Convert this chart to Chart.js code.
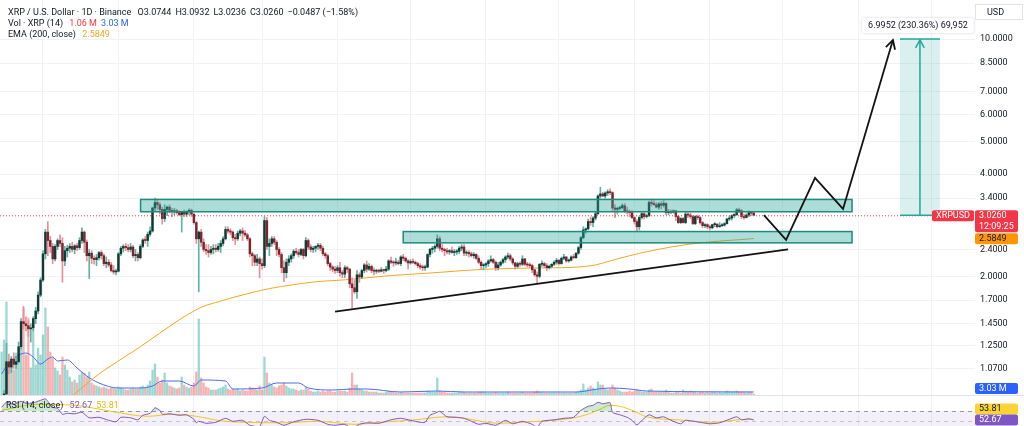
<!DOCTYPE html>
<html>
<head>
<meta charset="utf-8">
<script src="https://cdn.jsdelivr.net/npm/chart.js@4.4.1/dist/chart.umd.min.js"></script>
<style>
  body { margin: 0; background: #fff; width: 1024px; height: 426px; overflow: hidden; position: relative; font-family: Roboto, "Noto Sans", sans-serif; }
  #pricePane { position: absolute; left: 0; top: 0; width: 1024px; height: 395px; }
  #rsiPane { position: absolute; left: 0; top: 396px; width: 1024px; height: 30px; }
  #sep { position: absolute; left: 0; top: 395px; width: 1024px; height: 1px; background: #e0e3eb; }
  .lg { position: absolute; left: 8px; font-size: 9px; line-height: 11px; color: #131722; white-space: nowrap; }
  .lg span { margin-right: 4px; }
</style>
</head>
<body>
<div id="pricePane"><canvas id="priceChart"></canvas></div>
<div id="sep"></div>
<div id="rsiPane"><canvas id="rsiChart"></canvas></div>

<div class="lg" style="top:7px"><span>XRP / U.S. Dollar · 1D · Binance</span> <span>O3.0744</span><span>H3.0932</span><span>L3.0236</span><span>C3.0260</span><span>−0.0487 (−1.58%)</span></div>
<div class="lg" style="top:18px"><span>Vol · XRP (14)</span> <span style="color:#f23645">1.06 M</span><span style="color:#2962ff">3.03 M</span></div>
<div class="lg" style="top:29px"><span>EMA (200, close)</span> <span style="color:#f5a623">2.5849</span></div>
<div class="lg" style="top:400px;left:6px"><span>RSI (14, close)</span> <span style="color:#7e57c2">52.67</span><span style="color:#e8b90c">53.81</span></div>

<script>
// daily candles, 14 Nov 2024 .. 19 Sep 2025 (index 0..309)
const opens = [
  0.72, 0.73, 0.90, 1.12, 1.08, 1.14, 1.10, 1.12, 1.24, 1.47,
  1.45, 1.43, 1.40, 1.41, 1.50, 1.58, 1.76, 1.95, 2.33, 2.70,
  2.55, 2.45, 2.25, 2.45, 2.55, 2.50, 2.22, 2.38, 2.42, 2.45,
  2.40, 2.46, 2.43, 2.55, 2.70, 2.52, 2.30, 2.34, 2.26, 2.24,
  2.27, 2.35, 2.30, 2.18, 2.20, 2.16, 2.08, 2.06, 2.07, 2.33,
  2.42, 2.45, 2.43, 2.40, 2.44, 2.30, 2.32, 2.27, 2.45, 2.56,
  2.55, 2.66, 2.72, 3.18, 3.30, 3.25, 3.15, 2.96, 3.15, 3.20,
  3.13, 3.10, 3.12, 3.08, 3.04, 3.09, 3.05, 3.10, 3.13, 3.05,
  2.88, 2.58, 2.70, 2.52, 2.40, 2.38, 2.35, 2.40, 2.42, 2.40,
  2.45, 2.50, 2.58, 2.75, 2.72, 2.70, 2.60, 2.58, 2.68, 2.72,
  2.68, 2.65, 2.58, 2.33, 2.30, 2.20, 2.25, 2.18, 2.15, 2.92,
  2.45, 2.50, 2.58, 2.52, 2.40, 2.32, 2.12, 2.05, 2.20, 2.25,
  2.30, 2.37, 2.35, 2.32, 2.40, 2.30, 2.55, 2.44, 2.40, 2.42,
  2.45, 2.47, 2.42, 2.33, 2.30, 2.18, 2.13, 2.10, 2.08, 2.12,
  2.05, 2.03, 2.12, 2.10, 1.90, 1.85, 1.80, 2.02, 1.99, 2.08,
  2.16, 2.10, 2.14, 2.08, 2.07, 2.08, 2.07, 2.09, 2.08, 2.10,
  2.22, 2.20, 2.19, 2.20, 2.18, 2.28, 2.26, 2.22, 2.19, 2.21,
  2.20, 2.18, 2.15, 2.13, 2.12, 2.13, 2.32, 2.40, 2.42, 2.45,
  2.58, 2.42, 2.40, 2.38, 2.36, 2.38, 2.35, 2.36, 2.37, 2.42,
  2.44, 2.34, 2.35, 2.33, 2.30, 2.32, 2.26, 2.20, 2.15, 2.16,
  2.18, 2.22, 2.24, 2.20, 2.12, 2.16, 2.20, 2.24, 2.28, 2.30,
  2.25, 2.19, 2.14, 2.18, 2.17, 2.25, 2.17, 2.16, 2.15, 2.09,
  2.02, 2.00, 2.17, 2.18, 2.15, 2.12, 2.14, 2.17, 2.20, 2.23,
  2.18, 2.26, 2.28, 2.22, 2.23, 2.28, 2.27, 2.34, 2.43, 2.60,
  2.74, 2.76, 2.90, 2.88, 2.97, 3.06, 3.45, 3.50, 3.45, 3.52,
  3.55, 3.53, 3.18, 3.15, 3.17, 3.19, 3.23, 3.12, 3.10, 3.08,
  2.98, 2.90, 2.80, 2.98, 3.06, 3.00, 3.02, 3.30, 3.28, 3.25,
  3.20, 3.27, 3.24, 3.28, 3.08, 3.10, 3.09, 3.12, 3.00, 2.88,
  2.96, 2.88, 3.05, 3.03, 3.00, 2.86, 3.00, 2.98, 2.88, 2.82,
  2.84, 2.80, 2.78, 2.84, 2.85, 2.80, 2.82, 2.83, 2.86, 2.95,
  2.97, 3.02, 3.04, 3.14, 3.12, 3.00, 2.98, 3.03, 3.08, 3.0744
];
const highs = [
  0.80, 0.92, 1.27, 1.18, 1.16, 1.19, 1.16, 1.28, 1.50, 1.63,
  1.52, 1.48, 1.45, 1.52, 1.62, 1.80, 1.98, 2.38, 2.75, 2.90,
  2.62, 2.50, 2.48, 2.58, 2.65, 2.60, 2.45, 2.47, 2.50, 2.52,
  2.48, 2.50, 2.60, 2.78, 2.72, 2.56, 2.40, 2.38, 2.30, 2.32,
  2.37, 2.38, 2.33, 2.28, 2.24, 2.20, 2.15, 2.10, 2.35, 2.45,
  2.48, 2.50, 2.48, 2.50, 2.47, 2.40, 2.35, 2.48, 2.58, 2.62,
  2.70, 2.80, 3.20, 3.40, 3.38, 3.30, 3.20, 3.25, 3.22, 3.25,
  3.18, 3.17, 3.15, 3.12, 3.10, 3.14, 3.12, 3.16, 3.16, 3.06,
  2.90, 2.72, 2.75, 2.58, 2.48, 2.48, 2.45, 2.48, 2.48, 2.50,
  2.55, 2.62, 2.80, 2.80, 2.76, 2.72, 2.66, 2.72, 2.75, 2.78,
  2.73, 2.68, 2.60, 2.36, 2.32, 2.32, 2.28, 2.25, 3.00, 2.98,
  2.58, 2.62, 2.62, 2.55, 2.43, 2.35, 2.22, 2.25, 2.30, 2.33,
  2.40, 2.42, 2.40, 2.42, 2.42, 2.60, 2.58, 2.48, 2.45, 2.46,
  2.50, 2.50, 2.45, 2.35, 2.32, 2.20, 2.15, 2.14, 2.15, 2.20,
  2.08, 2.15, 2.14, 2.11, 1.98, 1.95, 2.08, 2.05, 2.10, 2.18,
  2.22, 2.18, 2.16, 2.12, 2.10, 2.10, 2.12, 2.10, 2.14, 2.24,
  2.28, 2.22, 2.26, 2.23, 2.30, 2.32, 2.28, 2.24, 2.24, 2.25,
  2.22, 2.20, 2.18, 2.16, 2.16, 2.33, 2.42, 2.45, 2.48, 2.65,
  2.62, 2.48, 2.42, 2.42, 2.40, 2.44, 2.40, 2.40, 2.45, 2.48,
  2.48, 2.38, 2.38, 2.36, 2.35, 2.33, 2.30, 2.22, 2.18, 2.20,
  2.24, 2.30, 2.26, 2.22, 2.20, 2.22, 2.26, 2.30, 2.34, 2.33,
  2.27, 2.20, 2.20, 2.21, 2.30, 2.26, 2.20, 2.19, 2.17, 2.10,
  2.06, 2.18, 2.22, 2.20, 2.18, 2.16, 2.18, 2.22, 2.26, 2.24,
  2.28, 2.32, 2.29, 2.25, 2.30, 2.32, 2.35, 2.45, 2.62, 2.80,
  2.78, 2.95, 2.99, 3.00, 3.10, 3.48, 3.66, 3.54, 3.55, 3.60,
  3.62, 3.55, 3.25, 3.20, 3.22, 3.27, 3.28, 3.20, 3.14, 3.12,
  3.00, 2.94, 3.00, 3.08, 3.08, 3.05, 3.33, 3.38, 3.34, 3.30,
  3.30, 3.32, 3.34, 3.30, 3.15, 3.14, 3.14, 3.13, 3.02, 2.98,
  2.98, 3.10, 3.08, 3.07, 3.02, 3.02, 3.03, 3.00, 2.90, 2.86,
  2.86, 2.83, 2.85, 2.88, 2.86, 2.88, 2.86, 2.88, 2.97, 3.01,
  3.04, 3.06, 3.17, 3.18, 3.15, 3.05, 3.06, 3.12, 3.10, 3.0932
];
const lows = [
  0.69, 0.71, 0.89, 1.03, 1.04, 1.07, 1.07, 1.11, 1.22, 1.40,
  1.38, 1.33, 1.28, 1.38, 1.45, 1.55, 1.74, 1.93, 2.25, 2.30,
  2.35, 2.18, 2.22, 2.40, 2.45, 1.92, 2.15, 2.28, 2.35, 2.36,
  2.33, 2.38, 2.40, 2.50, 2.35, 2.22, 1.97, 2.18, 2.17, 2.15,
  2.23, 2.25, 2.15, 2.12, 2.13, 2.06, 2.03, 2.02, 2.06, 2.30,
  2.36, 2.38, 2.36, 2.36, 2.27, 2.22, 2.22, 2.25, 2.43, 2.50,
  2.45, 2.62, 2.70, 3.10, 3.15, 3.05, 2.85, 2.90, 3.02, 3.08,
  3.00, 3.04, 3.05, 3.02, 2.70, 3.00, 3.00, 3.04, 3.00, 2.85,
  2.50, 1.80, 2.45, 2.36, 2.32, 2.28, 2.32, 2.33, 2.36, 2.37,
  2.35, 2.46, 2.56, 2.68, 2.65, 2.55, 2.48, 2.55, 2.63, 2.55,
  2.62, 2.55, 2.28, 2.15, 2.15, 2.15, 1.98, 2.10, 2.12, 2.40,
  2.30, 2.45, 2.48, 2.30, 2.28, 2.05, 1.93, 1.98, 2.15, 2.20,
  2.26, 2.32, 2.28, 2.30, 2.25, 2.28, 2.40, 2.36, 2.35, 2.36,
  2.40, 2.38, 2.30, 2.26, 2.15, 2.08, 2.06, 2.04, 2.05, 2.00,
  1.98, 1.98, 2.05, 1.85, 1.61, 1.78, 1.72, 1.92, 1.97, 2.05,
  2.06, 2.08, 2.05, 2.02, 2.04, 2.05, 2.06, 2.04, 2.06, 2.08,
  2.18, 2.14, 2.16, 2.16, 2.15, 2.22, 2.20, 2.10, 2.17, 2.18,
  2.16, 2.12, 2.10, 2.08, 2.08, 2.12, 2.28, 2.34, 2.36, 2.42,
  2.38, 2.36, 2.30, 2.33, 2.32, 2.34, 2.30, 2.32, 2.33, 2.38,
  2.30, 2.30, 2.28, 2.28, 2.26, 2.24, 2.18, 2.10, 2.09, 2.12,
  2.14, 2.20, 2.18, 2.08, 2.09, 2.14, 2.18, 2.20, 2.25, 2.22,
  2.16, 2.10, 2.12, 2.14, 2.15, 2.15, 2.13, 2.12, 2.05, 2.00,
  1.91, 1.98, 2.14, 2.12, 2.08, 2.10, 2.12, 2.15, 2.17, 2.16,
  2.17, 2.24, 2.20, 2.20, 2.22, 2.25, 2.26, 2.32, 2.40, 2.58,
  2.68, 2.74, 2.83, 2.80, 2.93, 3.04, 3.40, 3.43, 3.40, 3.46,
  3.48, 3.10, 2.98, 3.05, 3.14, 3.16, 3.08, 3.05, 3.00, 2.96,
  2.85, 2.72, 2.74, 2.95, 2.95, 2.97, 3.00, 3.22, 3.24, 3.18,
  3.15, 3.16, 3.20, 3.04, 3.04, 3.06, 3.07, 2.92, 2.86, 2.86,
  2.87, 2.86, 2.98, 2.96, 2.84, 2.84, 2.94, 2.85, 2.78, 2.78,
  2.76, 2.74, 2.76, 2.80, 2.78, 2.79, 2.80, 2.81, 2.85, 2.92,
  2.93, 2.98, 3.02, 3.08, 2.96, 2.95, 2.97, 3.00, 3.02, 3.0236
];
const closes = [
  0.73, 0.90, 1.12, 1.08, 1.14, 1.10, 1.12, 1.24, 1.47, 1.45,
  1.43, 1.40, 1.41, 1.50, 1.58, 1.76, 1.95, 2.33, 2.70, 2.55,
  2.45, 2.25, 2.45, 2.55, 2.50, 2.22, 2.38, 2.42, 2.45, 2.40,
  2.46, 2.43, 2.55, 2.70, 2.52, 2.30, 2.34, 2.26, 2.24, 2.27,
  2.35, 2.30, 2.18, 2.20, 2.16, 2.08, 2.06, 2.07, 2.33, 2.42,
  2.45, 2.43, 2.40, 2.44, 2.30, 2.32, 2.27, 2.45, 2.56, 2.55,
  2.66, 2.72, 3.18, 3.30, 3.25, 3.15, 2.96, 3.15, 3.20, 3.13,
  3.10, 3.12, 3.08, 3.04, 3.09, 3.05, 3.10, 3.13, 3.05, 2.88,
  2.58, 2.70, 2.52, 2.40, 2.38, 2.35, 2.40, 2.42, 2.40, 2.45,
  2.50, 2.58, 2.75, 2.72, 2.70, 2.60, 2.58, 2.68, 2.72, 2.68,
  2.65, 2.58, 2.33, 2.30, 2.20, 2.25, 2.18, 2.15, 2.92, 2.45,
  2.50, 2.58, 2.52, 2.40, 2.32, 2.12, 2.05, 2.20, 2.25, 2.30,
  2.37, 2.35, 2.32, 2.40, 2.30, 2.55, 2.44, 2.40, 2.42, 2.45,
  2.47, 2.42, 2.33, 2.30, 2.18, 2.13, 2.10, 2.08, 2.12, 2.05,
  2.03, 2.12, 2.10, 1.90, 1.85, 1.80, 2.02, 1.99, 2.08, 2.16,
  2.10, 2.14, 2.08, 2.07, 2.08, 2.07, 2.09, 2.08, 2.10, 2.22,
  2.20, 2.19, 2.20, 2.18, 2.28, 2.26, 2.22, 2.19, 2.21, 2.20,
  2.18, 2.15, 2.13, 2.12, 2.13, 2.32, 2.40, 2.42, 2.45, 2.58,
  2.42, 2.40, 2.38, 2.36, 2.38, 2.35, 2.36, 2.37, 2.42, 2.44,
  2.34, 2.35, 2.33, 2.30, 2.32, 2.26, 2.20, 2.15, 2.16, 2.18,
  2.22, 2.24, 2.20, 2.12, 2.16, 2.20, 2.24, 2.28, 2.30, 2.25,
  2.19, 2.14, 2.18, 2.17, 2.25, 2.17, 2.16, 2.15, 2.09, 2.02,
  2.00, 2.17, 2.18, 2.15, 2.12, 2.14, 2.17, 2.20, 2.23, 2.18,
  2.26, 2.28, 2.22, 2.23, 2.28, 2.27, 2.34, 2.43, 2.60, 2.74,
  2.76, 2.90, 2.88, 2.97, 3.06, 3.45, 3.50, 3.45, 3.52, 3.55,
  3.53, 3.18, 3.15, 3.17, 3.19, 3.23, 3.12, 3.10, 3.08, 2.98,
  2.90, 2.80, 2.98, 3.06, 3.00, 3.02, 3.30, 3.28, 3.25, 3.20,
  3.27, 3.24, 3.28, 3.08, 3.10, 3.09, 3.12, 3.00, 2.88, 2.96,
  2.88, 3.05, 3.03, 3.00, 2.86, 3.00, 2.98, 2.88, 2.82, 2.84,
  2.80, 2.78, 2.84, 2.85, 2.80, 2.82, 2.83, 2.86, 2.95, 2.97,
  3.02, 3.04, 3.14, 3.12, 3.00, 2.98, 3.03, 3.08, 3.07, 3.026
];
// volume in millions
const volumes = [
  43, 55, 93, 27, 30, 25, 42, 38, 47, 87,
  40, 77, 27, 77, 30, 47, 40, 60, 87, 68,
  43, 37, 27, 24, 20, 38, 30, 25, 18, 13,
  15, 12, 20, 23, 22, 18, 23, 12, 10, 9,
  8, 7, 8, 7, 6, 7, 7, 6, 8, 7,
  6, 5, 5, 6, 7, 6, 6, 8, 9, 7,
  10, 14, 25, 31, 18, 12, 15, 22, 12, 9,
  8, 7, 6, 7, 18, 10, 8, 7, 8, 12,
  23, 76, 17, 12, 8, 7, 5, 5, 5, 6,
  7, 8, 10, 6, 5, 6, 5, 6, 4, 5,
  4, 4, 8, 7, 6, 5, 9, 5, 38, 22,
  12, 10, 8, 7, 9, 10, 12, 9, 7, 6,
  6, 5, 4, 5, 5, 8, 6, 4, 3, 3,
  4, 3, 4, 3, 4, 4, 3, 3, 4, 4,
  4, 4, 3, 7, 22, 10, 10, 6, 5, 4,
  4, 3, 3, 3, 3, 2, 2, 2, 3, 4,
  3, 3, 2, 2, 3, 2, 2, 2, 2, 2,
  2, 2, 2, 2, 2, 4, 3, 3, 3, 17,
  4, 3, 3, 2, 2, 2, 2, 2, 3, 3,
  3, 2, 2, 2, 2, 2, 3, 3, 3, 2,
  2, 2, 2, 3, 2, 2, 2, 2, 3, 2,
  2, 2, 2, 2, 3, 2, 2, 2, 2, 3,
  4, 3, 2, 2, 2, 2, 2, 2, 2, 2,
  2, 2, 2, 2, 2, 2, 3, 3, 5, 11,
  5, 7, 9, 7, 5, 13, 10, 10, 6, 5,
  6, 10, 7, 5, 4, 3, 3, 3, 4, 3,
  4, 5, 4, 3, 3, 3, 5, 6, 3, 3,
  3, 3, 3, 5, 3, 2, 2, 3, 3, 2,
  5, 3, 3, 4, 3, 3, 2, 3, 3, 2,
  3, 2, 3, 3, 2, 3, 2, 3, 4, 3,
  3, 3, 4, 3, 3, 3, 2, 3, 3, 1.06
];

// indicator lines (candle index -> value)
const emaIdx = [0, 10, 20, 30, 40, 50, 57, 65, 70, 75, 82, 90, 100, 110, 120, 130, 140, 150, 160, 176, 190, 200, 217, 230, 237, 244, 250, 258, 266, 275, 285, 295, 305, 309];
const emaVal = [0.57, 0.66, 0.78, 0.90, 1.03, 1.15, 1.24, 1.36, 1.44, 1.52, 1.62, 1.69, 1.77, 1.84, 1.89, 1.93, 1.95, 1.98, 2.01, 2.045, 2.08, 2.10, 2.115, 2.12, 2.13, 2.16, 2.22, 2.30, 2.37, 2.44, 2.50, 2.54, 2.57, 2.5849];
const volMaIdx = [0, 3, 8, 10, 13, 16, 19, 21, 23, 27, 31, 35, 40, 48, 57, 62, 66, 73, 79, 82, 92, 95, 107, 113, 122, 126, 136, 144, 150, 164, 179, 190, 236, 245, 250, 258, 265, 309];
const volMaVal = [21, 32, 41, 42, 38, 31, 36, 38, 34, 35, 27, 19, 12, 7, 7, 9, 14, 14, 9, 15, 14, 6, 7, 12, 12, 7, 5, 6, 6, 3, 4, 3, 3, 6, 7, 6, 4, 3.03];
const rsiIdx = [0, 2, 5, 8, 10, 13, 16, 18, 19, 21, 23, 25, 27, 30, 33, 36, 40, 44, 47, 49, 53, 56, 58, 61, 63, 65, 66, 69, 73, 76,
                79, 80, 81, 84, 88, 92, 95, 99, 102, 104, 106, 108, 110, 113, 116, 120, 125, 130, 134, 137, 141, 144, 147, 150, 155, 160, 164, 168, 172, 174,
                176, 178, 180, 183, 187, 190, 193, 196, 199, 203, 207, 210, 214, 218, 220, 222, 227, 231, 235, 238, 241, 243, 245, 247, 250, 251, 254, 257, 259, 261,
                264, 266, 269, 272, 275, 279, 281, 283, 287, 291, 295, 299, 302, 304, 307, 309];
const rsiVal = [78, 88, 84, 90, 86, 87, 92, 95, 90, 78, 76, 64, 66, 65, 68, 57, 58, 52, 49, 58, 57, 53, 62, 66, 77, 72, 64, 65, 62, 63,
                54, 47, 50, 46, 48, 56, 50, 52, 42, 40, 39, 60, 52, 48, 42, 49, 54, 52, 44, 42, 44, 36, 44, 47, 46, 53, 56, 52, 48, 48,
                62, 66, 70, 59, 58, 56, 50, 44, 46, 42, 52, 45, 50, 44, 38, 50, 53, 56, 58, 72, 80, 82, 88, 85, 87, 68, 63, 58, 52, 43,
                56, 63, 57, 59, 52, 45, 52, 51, 48, 45, 47, 54, 59, 53, 55, 52.67];
const rsiMaIdx = [0, 15, 30, 45, 60, 70, 80, 90, 100, 115, 130, 145, 155, 169, 183, 190, 204, 217, 231, 238, 245, 250, 254, 260, 265, 279, 292, 306, 309];
const rsiMaVal = [72, 84, 82, 70, 60, 64, 60, 51, 48, 47, 50, 44, 48, 52.6, 59, 56, 46, 49, 54, 60, 72, 82, 80, 70, 59, 52.6, 48, 54, 53.81];

const monthStarts = [17, 48, 79, 107, 138, 168, 199, 229, 260, 291, 321, 352, 382];
const priceTicks = [1.07, 1.25, 1.45, 1.7, 2, 2.4, 3.4, 4, 5, 6, 7, 8.5, 10];

// drawings (candle index / price)
const zoneFrom = [57.1, 165.0], zoneTo = [349.4, 349.4];
const zoneTop = [3.37, 2.71], zoneBottom = [3.10, 2.51];
const trendIdx = [137.0, 323.1], trendPrice = [1.573, 2.40];
const pathIdx = [313.2, 322.3, 334.2, 345.7, 366.2];
const pathPrice = [3.03, 2.56, 3.90, 3.16, 9.95];
const measureFrom = 369.1, measureTo = 385.5, measureMid = 377.3;
const measureLow = 3.026, measureHigh = 10.0212;
const lastPrice = 3.026, lastEma = 2.5849, lastVolMa = 3.03, lastRsi = 52.67, lastRsiMa = 53.81;

const xMin = -0.657, xMax = 399.92;
Chart.defaults.font.family = 'Roboto, "Noto Sans", sans-serif';
const upColor = i => closes[i] >= opens[i];
const grid = '#f0f2f6';

function tag(ctx, x, y, w, h, bg, fg, lines) {
  ctx.fillStyle = bg;
  ctx.beginPath();
  ctx.roundRect(x, y, w, h, 2);
  ctx.fill();
  ctx.fillStyle = fg;
  ctx.font = '9px Roboto, "Noto Sans", sans-serif';
  ctx.textBaseline = 'middle';
  ctx.textAlign = 'left';
  lines.forEach((t, k) => ctx.fillText(t, x + 4, y + 5.5 + k * 11));
}

function arrowHead(ctx, x0, y0, x1, y1, len) {
  const a = Math.atan2(y1 - y0, x1 - x0);
  ctx.beginPath();
  ctx.moveTo(x1 - len * Math.cos(a - 0.5), y1 - len * Math.sin(a - 0.5));
  ctx.lineTo(x1, y1);
  ctx.lineTo(x1 - len * Math.cos(a + 0.5), y1 - len * Math.sin(a + 0.5));
  ctx.stroke();
}

const drawings = {
  id: 'drawings',
  afterDatasetsDraw(chart) {
    const { ctx, chartArea: a, scales: { x, y } } = chart;
    ctx.save();
    ctx.beginPath();
    ctx.rect(a.left, a.top, a.right - a.left, a.bottom - a.top);
    ctx.clip();

    // last price dotted line
    const py = y.getPixelForValue(lastPrice);
    ctx.strokeStyle = '#f23645';
    ctx.lineWidth = 1;
    ctx.setLineDash([1, 2]);
    ctx.beginPath();
    ctx.moveTo(a.left, py + 0.5);
    ctx.lineTo(a.right, py + 0.5);
    ctx.stroke();
    ctx.setLineDash([]);

    // zones
    zoneFrom.forEach((f, k) => {
      const x0 = x.getPixelForValue(f), x1 = x.getPixelForValue(zoneTo[k]);
      const y0 = y.getPixelForValue(zoneTop[k]), y1 = y.getPixelForValue(zoneBottom[k]);
      ctx.fillStyle = 'rgba(38,166,154,0.38)';
      ctx.fillRect(x0, y0, x1 - x0, y1 - y0);
      ctx.strokeStyle = '#1f8a7a';
      ctx.lineWidth = 1.5;
      ctx.strokeRect(x0, y0, x1 - x0, y1 - y0);
    });

    // trend line
    ctx.strokeStyle = '#131313';
    ctx.lineWidth = 1.8;
    ctx.beginPath();
    ctx.moveTo(x.getPixelForValue(trendIdx[0]), y.getPixelForValue(trendPrice[0]));
    ctx.lineTo(x.getPixelForValue(trendIdx[1]), y.getPixelForValue(trendPrice[1]));
    ctx.stroke();

    // projected path
    const pts = pathIdx.map((v, k) => [x.getPixelForValue(v), y.getPixelForValue(pathPrice[k])]);
    ctx.beginPath();
    pts.forEach((p, k) => k ? ctx.lineTo(p[0], p[1]) : ctx.moveTo(p[0], p[1]));
    ctx.stroke();
    const n = pts.length;
    arrowHead(ctx, pts[n - 2][0], pts[n - 2][1], pts[n - 1][0], pts[n - 1][1], 10);

    // measure box
    const mx0 = x.getPixelForValue(measureFrom), mx1 = x.getPixelForValue(measureTo);
    const mxm = x.getPixelForValue(measureMid);
    const my0 = y.getPixelForValue(measureHigh), my1 = y.getPixelForValue(measureLow);
    ctx.fillStyle = 'rgba(38,166,154,0.17)';
    ctx.fillRect(mx0, my0, mx1 - mx0, my1 - my0);
    ctx.strokeStyle = '#26a69a';
    ctx.lineWidth = 1.5;
    ctx.beginPath();
    ctx.moveTo(mx0, my0); ctx.lineTo(mx1, my0);
    ctx.moveTo(mx0, my1); ctx.lineTo(mx1, my1);
    ctx.moveTo(mxm, my1); ctx.lineTo(mxm, my0 + 1);
    ctx.stroke();
    arrowHead(ctx, mxm, my1, mxm, my0 + 1, 9);
    ctx.restore();

    // measure label
    const txt = '6.9952 (230.36%) 69,952';
    ctx.save();
    ctx.font = '9px Roboto, "Noto Sans", sans-serif';
    const w = ctx.measureText(txt).width + 12;
    const bx = mxm - 2 - w / 2, by = my0 - 21;
    ctx.shadowColor = 'rgba(0,0,0,0.18)';
    ctx.shadowBlur = 3;
    ctx.fillStyle = '#fff';
    ctx.beginPath();
    ctx.roundRect(bx, by, w, 15, 2);
    ctx.fill();
    ctx.shadowColor = 'transparent';
    ctx.fillStyle = '#131722';
    ctx.textBaseline = 'middle';
    ctx.fillText(txt, bx + 6, by + 7.5);
    ctx.restore();
  },
  afterDraw(chart) {
    const { ctx, chartArea: a, scales: { y, yv } } = chart;
    ctx.save();
    ctx.strokeStyle = '#e0e3eb';
    ctx.lineWidth = 1;
    ctx.strokeRect(a.right + 0.5, 4.5, 47, 15);
    ctx.fillStyle = '#131722';
    ctx.font = '9px Roboto, "Noto Sans", sans-serif';
    ctx.textBaseline = 'middle';
    ctx.fillText('USD', a.right + 12, 12.5);
    const py = y.getPixelForValue(lastPrice);
    tag(ctx, a.right - 43, py - 5, 42, 11, '#f23645', '#fff', ['XRPUSD']);
    tag(ctx, a.right, py - 5, 43, 22, '#f23645', '#fff', ['3.0260', '12:09:25']);
    const ey = y.getPixelForValue(lastEma);
    tag(ctx, a.right, Math.max(ey - 5.5, py + 18), 43, 11, '#ff9800', '#131722', ['2.5849']);
    const vy = Math.min(yv.getPixelForValue(lastVolMa) - 5.5, a.bottom - 12);
    tag(ctx, a.right, vy, 43, 11, '#2962ff', '#fff', ['3.03 M']);
    ctx.restore();
  }
};

const rsiBands = {
  id: 'rsiBands',
  beforeDatasetsDraw(chart) {
    const { ctx, chartArea: a, scales: { y } } = chart;
    const y70 = y.getPixelForValue(70), y30 = y.getPixelForValue(30), y50 = y.getPixelForValue(50);
    ctx.save();
    ctx.fillStyle = 'rgba(126,87,194,0.09)';
    ctx.fillRect(a.left, y70, a.right - a.left, y30 - y70);
    ctx.strokeStyle = '#9598a1';
    ctx.lineWidth = 1;
    ctx.setLineDash([4, 4]);
    ctx.beginPath();
    ctx.moveTo(a.left, Math.round(y70) + 0.5); ctx.lineTo(a.right, Math.round(y70) + 0.5);
    ctx.stroke();
    ctx.strokeStyle = 'rgba(149,152,161,0.5)';
    ctx.beginPath();
    ctx.moveTo(a.left, Math.round(y50) + 0.5); ctx.lineTo(a.right, Math.round(y50) + 0.5);
    ctx.stroke();
    ctx.restore();
  },
  afterDraw(chart) {
    const { ctx, chartArea: a, scales: { y } } = chart;
    const y2 = y.getPixelForValue(lastRsi) - 5.5;
    const y1 = Math.min(y.getPixelForValue(lastRsiMa) - 5.5, y2 - 11);
    ctx.save();
    tag(ctx, a.right, y1, 43, 11, '#f9d434', '#131722', ['53.81']);
    tag(ctx, a.right, y2, 43, 11, '#7e57c2', '#fff', ['52.67']);
    ctx.restore();
  }
};

function timeAxis() {
  return {
    type: 'linear', min: xMin, max: xMax, offset: false, bounds: 'data',
    afterBuildTicks: s => { s.ticks = monthStarts.map(v => ({ value: v })); },
    ticks: { display: false },
    grid: { color: grid, drawTicks: false, offset: false },
    border: { display: false },
    afterFit: s => { s.height = 0; s.paddingLeft = 0; s.paddingRight = 0; }
  };
}

new Chart(document.getElementById('priceChart'), {
  type: 'bar',
  data: {
    datasets: [
      {
        type: 'bar', label: 'Volume', yAxisID: 'yv', order: 6, grouped: false, barThickness: 1.6,
        data: volumes.map((v, i) => ({ x: i, y: v })),
        backgroundColor: volumes.map((v, i) => upColor(i) ? 'rgba(38,166,154,0.45)' : 'rgba(239,83,80,0.45)')
      },
      {
        type: 'line', label: 'Vol MA', yAxisID: 'yv', order: 5,
        data: volMaIdx.map((v, k) => ({ x: v, y: volMaVal[k] })),
        borderColor: '#4a6cf0', borderWidth: 1, pointRadius: 0, cubicInterpolationMode: 'monotone'
      },
      {
        type: 'line', label: 'EMA 200', yAxisID: 'y', order: 4,
        data: emaIdx.map((v, k) => ({ x: v, y: emaVal[k] })),
        borderColor: '#f5a623', borderWidth: 1, pointRadius: 0, cubicInterpolationMode: 'monotone'
      },
      {
        type: 'bar', label: 'Wick', yAxisID: 'y', order: 3, grouped: false, barThickness: 1,
        data: highs.map((h, i) => ({ x: i, y: [lows[i], h] })),
        backgroundColor: highs.map((h, i) => upColor(i) ? '#5fb3a4' : '#e88f98')
      },
      {
        type: 'bar', label: 'Body', yAxisID: 'y', order: 2, grouped: false, barThickness: 1.8, minBarLength: 1,
        data: opens.map((o, i) => ({ x: i, y: [o, closes[i]] })),
        backgroundColor: opens.map((o, i) => upColor(i) ? '#123a33' : '#7a2631')
      }
    ]
  },
  options: {
    responsive: true,
    maintainAspectRatio: false,
    animation: false,
    events: [],
    layout: { padding: 0 },
    plugins: { legend: { display: false }, tooltip: { enabled: false } },
    scales: {
      x: timeAxis(),
      y: {
        type: 'logarithmic', position: 'right', min: 0.8934, max: 13.052,
        afterBuildTicks: s => { s.ticks = priceTicks.map(v => ({ value: v })); },
        ticks: { callback: v => Number(v).toFixed(4), color: '#131722', font: { size: 9 }, padding: 5 },
        grid: { color: grid, drawTicks: false },
        border: { display: false },
        afterFit: s => { s.width = 49; s.paddingTop = 0; s.paddingBottom = 0; }
      },
      yv: {
        type: 'linear', display: false, min: 0, max: 395
      }
    }
  },
  plugins: [drawings]
});

new Chart(document.getElementById('rsiChart'), {
  type: 'line',
  data: {
    datasets: [
      {
        label: 'RSI', data: rsiIdx.map((v, k) => ({ x: v, y: rsiVal[k] })),
        borderColor: '#7e57c2', borderWidth: 1, pointRadius: 0, tension: 0.2,
        fill: { target: { value: 70 }, above: 'rgba(76,175,80,0.28)', below: 'rgba(0,0,0,0)' }
      },
      {
        label: 'RSI MA', data: rsiMaIdx.map((v, k) => ({ x: v, y: rsiMaVal[k] })),
        borderColor: '#f5c518', borderWidth: 1, pointRadius: 0, cubicInterpolationMode: 'monotone'
      }
    ]
  },
  options: {
    responsive: true,
    maintainAspectRatio: false,
    animation: false,
    events: [],
    layout: { padding: 0 },
    plugins: { legend: { display: false }, tooltip: { enabled: false } },
    scales: {
      x: timeAxis(),
      y: {
        type: 'linear', position: 'right', min: 40.6, max: 100.6,
        ticks: { display: false },
        grid: { display: false },
        border: { display: false },
        afterFit: s => { s.width = 49; s.paddingTop = 0; s.paddingBottom = 0; }
      }
    }
  },
  plugins: [rsiBands]
});
</script>
</body>
</html>
